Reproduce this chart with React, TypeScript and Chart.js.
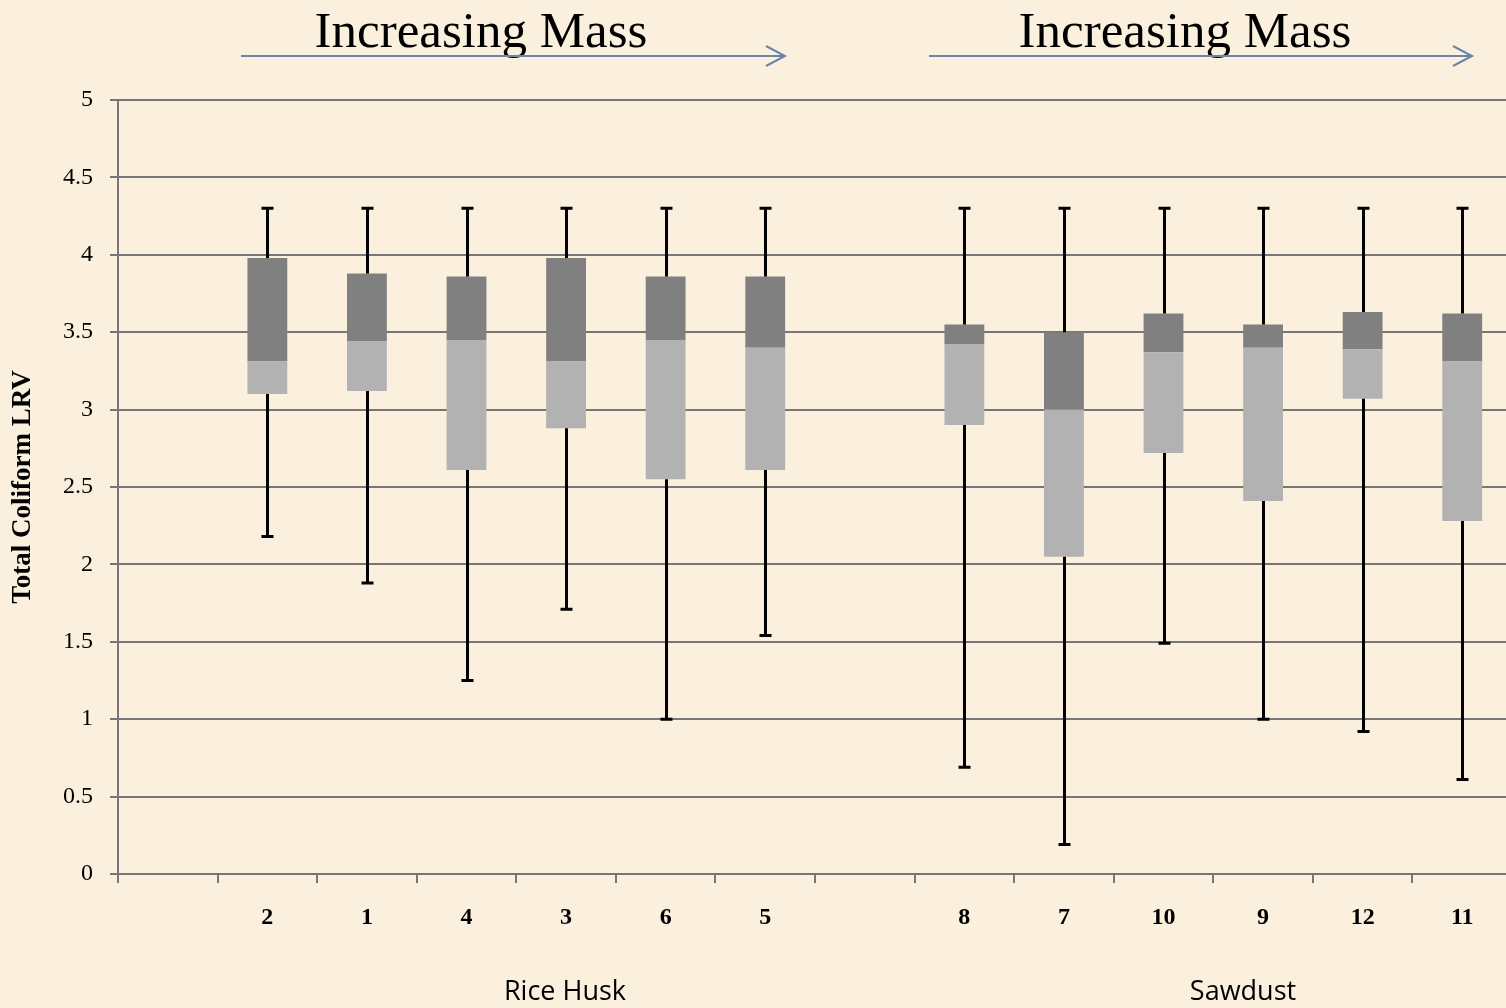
import React, { useEffect, useRef } from "react";
import { Chart, registerables } from "chart.js";

Chart.register(...registerables);

// ---- data ----
const categories: string[] = ["", "2", "1", "4", "3", "6", "5", "", "8", "7", "10", "9", "12", "11"];
const whiskerMax: (number | null)[] = [null, 4.3, 4.3, 4.3, 4.3, 4.3, 4.3, null, 4.3, 4.3, 4.3, 4.3, 4.3, 4.3];
const boxQ3: (number | null)[] = [null, 3.98, 3.88, 3.86, 3.98, 3.86, 3.86, null, 3.55, 3.5, 3.62, 3.55, 3.63, 3.62];
const boxMedian: (number | null)[] = [null, 3.31, 3.44, 3.45, 3.31, 3.45, 3.4, null, 3.42, 3.0, 3.37, 3.4, 3.39, 3.31];
const boxQ1: (number | null)[] = [null, 3.1, 3.12, 2.61, 2.88, 2.55, 2.61, null, 2.9, 2.05, 2.72, 2.41, 3.07, 2.28];
const whiskerMin: (number | null)[] = [null, 2.18, 1.88, 1.25, 1.71, 1.0, 1.54, null, 0.69, 0.19, 1.49, 1.0, 0.92, 0.61];
const groupLabels: string[] = ["Rice Husk", "Sawdust"];
const topTitles: string[] = ["Increasing Mass", "Increasing Mass"];
const yAxisTitle = "Total Coliform LRV";

const W = 1512;
const H = 1008;
const GRID = "rgb(118,118,118)";

const whiskerPlugin = {
  id: "whiskers",
  afterDatasetsDraw(chart: any) {
    const { ctx } = chart;
    const xs = chart.scales.x;
    const ys = chart.scales.y;
    ctx.save();
    ctx.strokeStyle = "#000";
    ctx.lineWidth = 3;
    ctx.lineCap = "butt";
    for (let i = 0; i < categories.length; i++) {
      const mx = whiskerMax[i], mn = whiskerMin[i], q3 = boxQ3[i], q1 = boxQ1[i];
      if (mx == null || mn == null || q3 == null || q1 == null) continue;
      const x = Math.round(xs.getPixelForValue(i)) + 0.5;
      const yMax = ys.getPixelForValue(mx);
      const yMin = ys.getPixelForValue(mn);
      const yQ3 = ys.getPixelForValue(q3);
      const yQ1 = ys.getPixelForValue(q1);
      ctx.beginPath();
      ctx.moveTo(x, yQ3);
      ctx.lineTo(x, yMax);
      ctx.moveTo(x, yQ1);
      ctx.lineTo(x, yMin);
      ctx.moveTo(x - 6, yMax);
      ctx.lineTo(x + 6, yMax);
      ctx.moveTo(x - 6, yMin);
      ctx.lineTo(x + 6, yMin);
      ctx.stroke();
    }
    ctx.restore();
  },
};

const annotationPlugin = {
  id: "annotations",
  afterDraw(chart: any) {
    const { ctx } = chart;
    ctx.save();
    // top titles
    ctx.fillStyle = "#000";
    ctx.font = "51px 'Liberation Serif', serif";
    ctx.textAlign = "center";
    ctx.textBaseline = "alphabetic";
    ctx.fillText(topTitles[0], 481, 47);
    ctx.fillText(topTitles[1], 1185, 47);
    // arrows
    ctx.strokeStyle = "rgb(104,134,168)";
    ctx.lineWidth = 2;
    const arrows = [
      [241, 785],
      [929, 1472],
    ];
    for (const [a, b] of arrows) {
      ctx.beginPath();
      ctx.moveTo(a, 56);
      ctx.lineTo(b, 56);
      ctx.moveTo(b - 19, 46);
      ctx.lineTo(b, 56);
      ctx.lineTo(b - 19, 66);
      ctx.stroke();
    }
    // group labels
    ctx.fillStyle = "#000";
    ctx.font = "27px 'Open Sans', sans-serif";
    ctx.textBaseline = "middle";
    ctx.fillText(groupLabels[0], 565, 992);
    ctx.fillText(groupLabels[1], 1243, 992);
    // y axis title
    ctx.font = "bold 27px 'Liberation Serif', serif";
    ctx.translate(23, 487);
    ctx.rotate(-Math.PI / 2);
    ctx.fillText(yAxisTitle, 0, 0);
    ctx.restore();
  },
};

export default function App() {
  const ref = useRef<HTMLCanvasElement | null>(null);
  useEffect(() => {
    if (!ref.current) return;
    const lower = categories.map((_, i) =>
      boxQ1[i] == null || boxMedian[i] == null ? null : [boxQ1[i], boxMedian[i]]
    );
    const upper = categories.map((_, i) =>
      boxMedian[i] == null || boxQ3[i] == null ? null : [boxMedian[i], boxQ3[i]]
    );
    const chart = new Chart(ref.current, {
      type: "bar",
      data: {
        labels: categories,
        datasets: [
          {
            label: "lower",
            data: lower as any,
            backgroundColor: "rgb(178,178,178)",
            borderWidth: 0,
            grouped: false,
            barPercentage: 0.4,
            categoryPercentage: 1,
          } as any,
          {
            label: "upper",
            data: upper as any,
            backgroundColor: "rgb(128,128,128)",
            borderWidth: 0,
            grouped: false,
            barPercentage: 0.4,
            categoryPercentage: 1,
          } as any,
        ],
      },
      options: {
        responsive: false,
        animation: false,
        layout: { padding: { top: 100, left: 0, right: 0, bottom: 0 } },
        plugins: {
          legend: { display: false },
          tooltip: { enabled: false },
          title: { display: false },
        },
        scales: {
          x: {
            type: "category",
            offset: true,
            grid: {
              display: true,
              offset: true,
              drawOnChartArea: false,
              drawTicks: true,
              tickLength: 9,
              color: GRID,
              lineWidth: 2,
            },
            border: { display: true, color: GRID, width: 2 },
            ticks: {
              color: "#000",
              padding: 20,
              maxRotation: 0,
              autoSkip: false,
              font: { family: "'Liberation Serif', serif", size: 24, weight: "bold" },
            },
            afterFit(scale: any) {
              scale.height = H - 874;
            },
          },
          y: {
            type: "linear",
            min: 0,
            max: 5,
            ticks: {
              stepSize: 0.5,
              color: "#000",
              padding: 17,
              font: { family: "'Liberation Serif', serif", size: 24 },
              callback: (v: any) => String(Number(v)),
            },
            grid: {
              color: GRID,
              lineWidth: 2,
              tickLength: 8,
              drawTicks: true,
            },
            border: { display: true, color: GRID, width: 2 },
            afterFit(scale: any) {
              scale.width = 118;
            },
          },
        },
      } as any,
      plugins: [whiskerPlugin, annotationPlugin],
    });
    return () => chart.destroy();
  }, []);
  return (
    <div
      style={{
        position: "absolute",
        left: 0,
        top: 0,
        width: 1506,
        height: H,
        overflow: "hidden",
        background: "rgb(250,240,221)",
      }}
    >
      <canvas ref={ref} width={W} height={H} style={{ width: W, height: H, display: "block" }} />
    </div>
  );
}
